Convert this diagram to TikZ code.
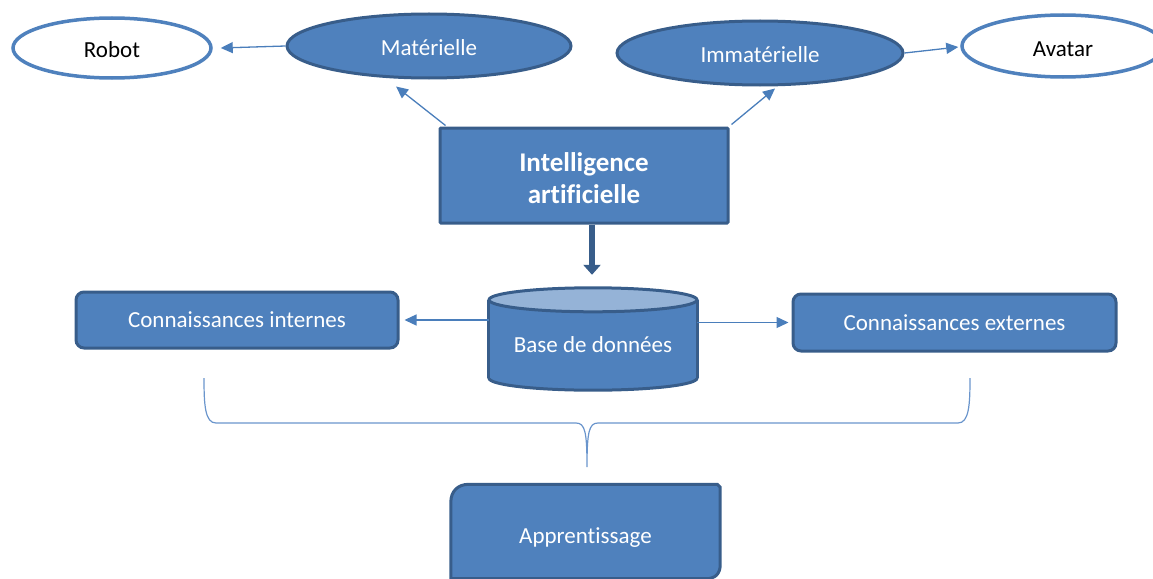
\documentclass[tikz,border=0pt]{standalone}
\usepackage{fontspec}
\setmainfont{Carlito}[Ligatures=NoCommon]
\usetikzlibrary{shapes.geometric,arrows.meta,backgrounds}
\definecolor{fillblue}{HTML}{4F81BD}
\definecolor{darkblue}{HTML}{385D8A}
\definecolor{lineblue}{HTML}{4A7EBB}
\definecolor{topblue}{HTML}{95B3D7}
\definecolor{bracecol}{HTML}{6A95CC}
\begin{document}
\begin{tikzpicture}[x=1pt,y=-1pt,
  txt/.style={font=\fontsize{23}{27}\selectfont},
  white oval/.style={ellipse, draw=fillblue, line width=3.5pt, fill=white, inner sep=0pt, txt, text height=20pt, text depth=0pt},
  blue oval/.style={ellipse, draw=darkblue, line width=3pt, fill=fillblue, text=white, inner sep=0pt, txt, text height=20pt, text depth=0pt},
  blue box/.style={rectangle, rounded corners=8pt, draw=darkblue, line width=3pt, fill=fillblue, text=white, inner sep=0pt, txt},
  arr/.style={draw=lineblue, line width=1.3pt, -{Triangle[length=12pt,width=11pt]}},
  bigarr/.style={draw=darkblue, line width=6pt, -{Triangle[length=10pt,width=17pt]}},
  shapefill/.style={fill=fillblue, draw=darkblue, line width=3pt},
  bracestyle/.style={draw=bracecol, line width=1.2pt},
]
\useasboundingbox (0,0) rectangle (1153,578);

% top ovals
\node[white oval, minimum width=198pt, minimum height=60pt] (robot) at (112,48) {Robot};
\node[blue oval, minimum width=284pt, minimum height=64pt] (mat) at (429,46) {Matérielle};
\node[blue oval, minimum width=286pt, minimum height=64pt] (imm) at (760,53) {Immatérielle};
\node[white oval, minimum width=202pt, minimum height=62pt, text height=21pt] (avatar) at (1063,46) {Avatar};

% central box
\node[blue box, rounded corners=1pt, minimum width=288pt, minimum height=95pt,
      text height=44pt, text depth=20pt,
      font=\bfseries\fontsize{27}{32}\selectfont] (ia) at (584,175.5)
      {\begin{tabular}{@{}c@{}}Intelligence\\artificielle\end{tabular}};

% side boxes
\node[blue box, minimum width=322pt, minimum height=56pt] (ci) at (237,320) {Connaissances internes};
\node[blue box, minimum width=323pt, minimum height=57pt] (ce) at (954.5,322.5) {Connaissances externes};

% database cylinder
\node[txt, text=white, inner sep=0pt, minimum width=208pt, minimum height=102pt,
      text height=27pt, text depth=0pt] (db) at (593,339) {Base de données};
\begin{scope}[on background layer]
  \path[shapefill] ([yshift=12pt]db.south) ellipse (104 and 12);
  \fill[fillblue] ([yshift=-12pt]db.north west) rectangle ([yshift=12pt]db.south east);
  \draw[darkblue, line width=3pt] ([yshift=-12pt]db.north west) -- ([yshift=12pt]db.south west);
  \draw[darkblue, line width=3pt] ([yshift=-12pt]db.north east) -- ([yshift=12pt]db.south east);
  \path[fill=topblue, draw=darkblue, line width=3pt] ([yshift=-12pt]db.north) ellipse (104 and 12);
\end{scope}

% learning box
\node[txt, text=white, inner sep=0pt, minimum width=269pt, minimum height=94pt,
      text height=23pt, text depth=0pt] (ap) at (585.5,531.5) {Apprentissage};
\begin{scope}[on background layer]
  \path[shapefill] (ap.south west) -- ([yshift=-18pt]ap.north west)
    .. controls ([yshift=-7pt]ap.north west) and ([xshift=7pt]ap.north west) .. ([xshift=18pt]ap.north west)
    -- ([xshift=-3pt]ap.north east) -- ([yshift=-3pt]ap.north east)
    -- ([yshift=14pt]ap.south east)
    .. controls ([yshift=5pt]ap.south east) and ([xshift=-5pt]ap.south east) .. ([xshift=-14pt]ap.south east)
    -- cycle;
\end{scope}

% connectors
\draw[arr] (mat.west) -- ([xshift=8pt]robot.east);
\draw[arr] (imm.east) -- ([xshift=-2pt,yshift=-1pt]avatar.west);
\draw[arr] ([xshift=7pt,yshift=1pt]ia.north west) -- ([xshift=-33pt,yshift=-7pt]mat.south);
\draw[arr] ([xshift=2pt,yshift=2pt]ia.north east) -- ([xshift=15pt,yshift=-2pt]imm.south);
\draw[bigarr] ([xshift=8pt]ia.south) -- ([xshift=8pt,yshift=13pt]ia.south |- db.north);
\draw[arr] (db.west |- ci.east) -- ([xshift=5pt]ci.east);
\draw[arr] (db.east |- ce.west) -- ([xshift=-3pt]ce.west);

% brace
\draw[bracestyle] (204,378) .. controls (204,405) and (205,423) .. (216,423) -- (576,423)
  .. controls (585,423) and (587,432) .. (587,467)
  .. controls (587,432) and (589,423) .. (598,423) -- (958,423)
  .. controls (969,423) and (970,405) .. (970,378);
\end{tikzpicture}
\end{document}
